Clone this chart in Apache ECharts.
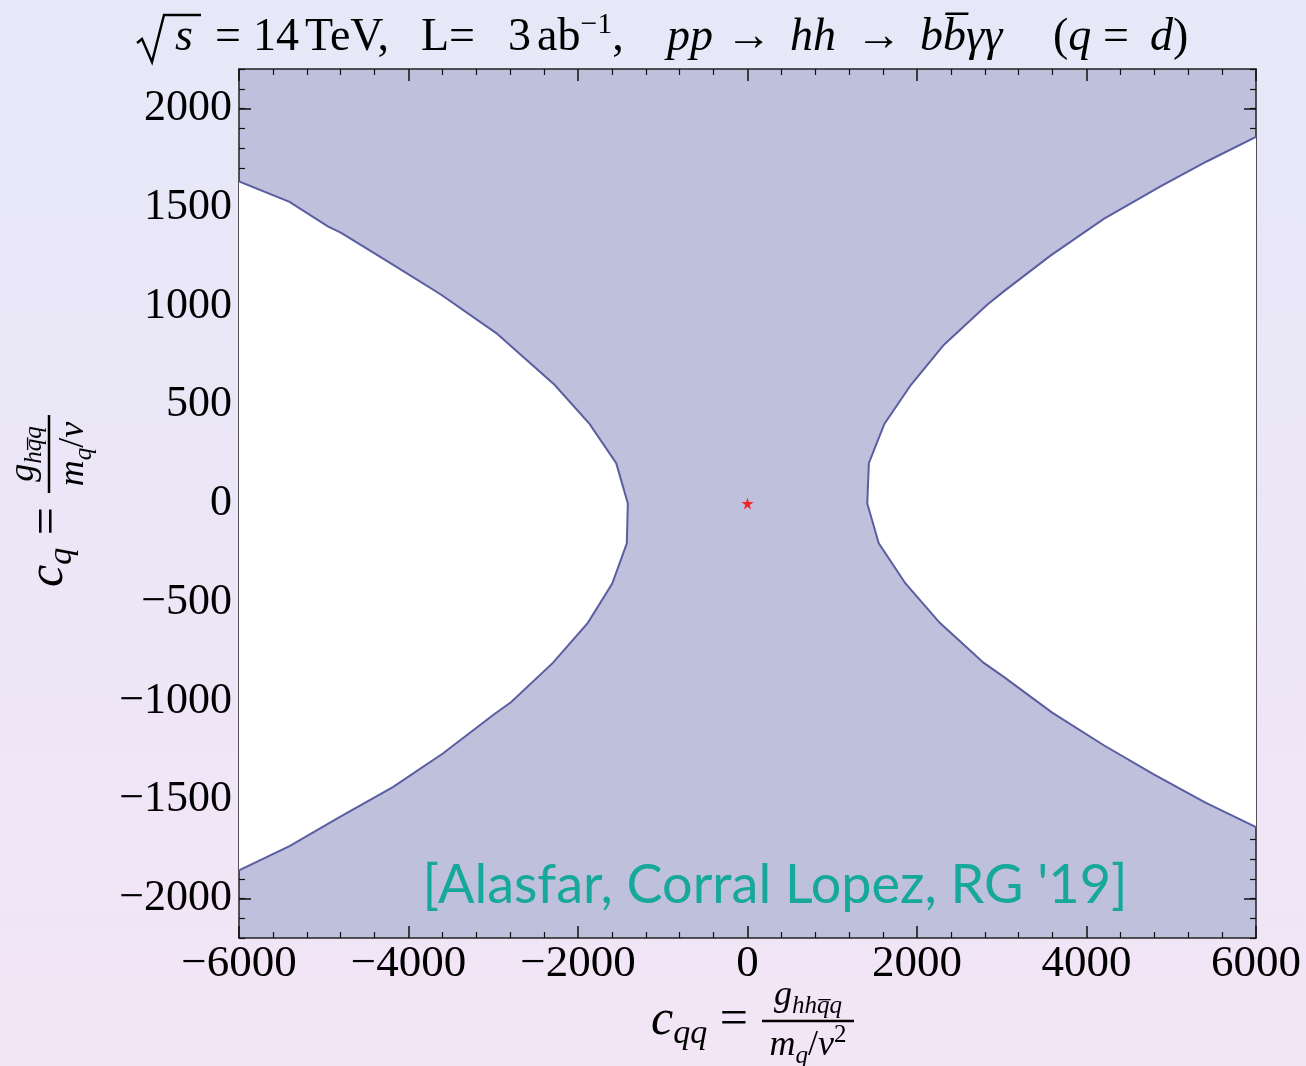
<!DOCTYPE html>
<html>
<head>
<meta charset="utf-8">
<script src="https://cdn.jsdelivr.net/npm/echarts@6/dist/echarts.min.js"></script>
<style>
  html, body { margin: 0; padding: 0; }
  #chart { width: 1306px; height: 1066px; }
</style>
</head>
<body>
<div id="chart"></div>
<script>
// Excluded-region boundaries in the (c_qq, c_q) plane, traced from top to bottom.
const leftBoundary = [
  [-6000, 1631], [-5404, 1527], [-4952, 1403], [-4794, 1370], [-4185, 1209],
  [-3614, 1057], [-2965, 863], [-2277, 601], [-1864, 403], [-1549, 204],
  [-1412, 0], [-1424, -202], [-1596, -405], [-1884, -604], [-2297, -807],
  [-2788, -1005], [-3005, -1072], [-3595, -1266], [-4185, -1436],
  [-4814, -1588], [-5404, -1735], [-6000, -1858]
];
const rightBoundary = [
  [6000, 1856], [5424, 1733], [4873, 1606], [4204, 1441], [3575, 1255],
  [3024, 1074], [2828, 1006], [2316, 803], [1929, 601], [1615, 403],
  [1432, 204], [1413, 0], [1549, -202], [1864, -405], [2269, -604],
  [2788, -807], [3024, -878], [3595, -1059], [4204, -1224], [4794, -1371],
  [5404, -1515], [6000, -1638]
];
// Standard Model point
const smPoint = [[0, 0]];

// Axis ranges and tick labels
const xTicks = [-6000, -4000, -2000, 0, 2000, 4000, 6000];
const yTicks = [-2000, -1500, -1000, -500, 0, 500, 1000, 1500, 2000];
const xRange = [-6000, 6000];
const yRange = [-2200, 2200];
const yMinorStep = 100;

const SERIF = '"Liberation Serif", "DejaVu Serif", serif';
const fillColor = '#bfc0db';
const lineColor = '#5a5ea0';

const fmt = v => String(v).replace('-', '\u2212');

function region(boundary) {
  return function (params, api) {
    const pts = boundary.map(p => api.coord(p));
    return {
      type: 'group',
      children: [
        { type: 'polygon', shape: { points: pts }, style: { fill: '#ffffff' } },
        { type: 'polyline', shape: { points: pts },
          style: { stroke: lineColor, lineWidth: 2, fill: null } }
      ]
    };
  };
}

// Rich-text styles shared by the math labels
function mathRich(main, sub) {
  return {
    r: { fontFamily: SERIF, fontSize: main, lineHeight: main + 10, fill: '#000' },
    i: { fontFamily: SERIF, fontStyle: 'italic', fontSize: main, lineHeight: main + 10, fill: '#000' },
    s: { fontFamily: SERIF, fontStyle: 'italic', fontSize: sub, lineHeight: sub - 1,
         verticalAlign: 'bottom', fill: '#000' },
    sup: { fontFamily: SERIF, fontSize: sub, lineHeight: sub + 4, verticalAlign: 'top', fill: '#000' }
  };
}

// "lhs = num / den" with a drawn fraction bar
function fractionLabel(o) {
  return {
    type: 'group', x: o.x, y: o.y, rotation: o.rotation || 0, silent: true,
    children: [
      { type: 'text', style: { text: o.lhs, rich: mathRich(o.main, o.sub), x: 0, y: 0,
          align: 'right', verticalAlign: 'middle' } },
      { type: 'line', shape: { x1: o.gap, y1: 0, x2: o.gap + o.w, y2: 0 },
        style: { stroke: '#000', lineWidth: 2.5 } },
      { type: 'text', style: { text: o.num, rich: mathRich(o.fmain, o.fsub),
          x: o.gap + o.w / 2, y: -2, align: 'center', verticalAlign: 'bottom' } },
      { type: 'text', style: { text: o.den, rich: mathRich(o.fmain, o.fsub),
          x: o.gap + o.w / 2, y: 2, align: 'center', verticalAlign: 'top' } }
    ]
  };
}

// Title pieces, each placed along the top line
function titlePiece(x, text) {
  return {
    type: 'text', x: x, y: 38, silent: true,
    style: { text: text, rich: mathRich(46, 30), align: 'left', verticalAlign: 'middle' }
  };
}

const axisLineStyle = { color: '#222', width: 1.5 };
const tickStyle = { color: '#111', width: 1.5 };

const xAxisBase = {
  type: 'value', min: xRange[0], max: xRange[1], interval: xTicks[1] - xTicks[0],
  axisLine: { show: true, onZero: false, lineStyle: axisLineStyle },
  axisTick: { show: true, inside: true, length: 12, lineStyle: tickStyle },
  minorTick: { show: true, splitNumber: 5, length: 6, lineStyle: { color: '#111', width: 1.2 } },
  splitLine: { show: false }, minorSplitLine: { show: false }
};

// Major y ticks at the labelled values
function yMajor(position, labels) {
  return {
    type: 'value', min: yRange[0], max: yRange[1], interval: yMinorStep, position: position,
    axisLine: { show: true, onZero: false, lineStyle: axisLineStyle },
    axisTick: { show: true, inside: true, length: 12, lineStyle: tickStyle, customValues: yTicks },
    axisLabel: labels ? {
      show: true, customValues: yTicks, fontFamily: SERIF, fontSize: 44, color: '#000',
      margin: 7, formatter: fmt
    } : { show: false },
    splitLine: { show: false }
  };
}
// Minor y ticks every 100
function yMinor(position) {
  return {
    type: 'value', min: yRange[0], max: yRange[1], interval: yMinorStep, position: position,
    axisLine: { show: false, onZero: false },
    axisTick: { show: true, inside: true, length: 6, lineStyle: { color: '#111', width: 1.2 } },
    axisLabel: { show: false },
    splitLine: { show: false }
  };
}

const chart = echarts.init(document.getElementById('chart'), null, { renderer: 'canvas' });

chart.setOption({
  animation: false,
  backgroundColor: {
    type: 'linear', x: 0, y: 0, x2: 0, y2: 1,
    colorStops: [{ offset: 0, color: '#e6e8f8' }, { offset: 1, color: '#f2e5f6' }]
  },
  grid: {
    left: 239, top: 69, width: 1017, height: 869,
    show: true, backgroundColor: fillColor, borderWidth: 0
  },
  xAxis: [
    Object.assign({}, xAxisBase, {
      position: 'bottom',
      axisLabel: { fontFamily: SERIF, fontSize: 45, color: '#000', margin: 4, formatter: fmt }
    }),
    Object.assign({}, xAxisBase, { position: 'top', axisLabel: { show: false } })
  ],
  yAxis: [yMajor('left', true), yMajor('right', false), yMinor('left'), yMinor('right')],
  series: [
    { type: 'custom', name: 'left', renderItem: region(leftBoundary), data: [0], clip: true, z: 2 },
    { type: 'custom', name: 'right', renderItem: region(rightBoundary), data: [0], clip: true, z: 2 },
    {
      type: 'scatter', data: smPoint, z: 5,
      symbol: 'path://M50,0 L61,35 L98,35 L68,57 L79,91 L50,70 L21,91 L32,57 L2,35 L39,35 Z',
      symbolSize: 12, itemStyle: { color: '#ff0000' }
    }
  ],
  graphic: [
    // radical sign over s
    {
      type: 'polyline', silent: true,
      shape: { points: [[137, 43], [142, 39], [152, 62], [164, 15], [201, 15]] },
      style: { stroke: '#000', lineWidth: 2.4, fill: null }
    },
    titlePiece(175, '{i|s}'),
    titlePiece(215, '{r|=}'),
    titlePiece(253, '{r|14}'),
    titlePiece(305, '{r|TeV,}'),
    titlePiece(421, '{r|L=}'),
    titlePiece(508, '{r|3}'),
    titlePiece(537, '{r|ab}{sup|\u22121}{r|,}'),
    titlePiece(667, '{i|pp}'),
    titlePiece(726, '{r|\u2192}'),
    titlePiece(790, '{i|hh}'),
    titlePiece(856, '{r|\u2192}'),
    titlePiece(920, '{i|bb\u0305\u03B3\u03B3}'),
    titlePiece(1053, '{r|(}{i|q}'),
    titlePiece(1103, '{r|=}'),
    titlePiece(1150, '{i|d}{r|)}'),
    fractionLabel({
      x: 748, y: 1021, gap: 14, w: 92, main: 50, sub: 34, fmain: 36, fsub: 25,
      lhs: '{i|c}{s|qq}{r| =}',
      num: '{i|g}{s|hhq\u0305q}',
      den: '{i|m}{s|q}{r|/}{i|v}{sup|2}'
    }),
    fractionLabel({
      x: 49, y: 507, rotation: Math.PI / 2, gap: 14, w: 78, main: 50, sub: 34, fmain: 36, fsub: 25,
      lhs: '{i|c}{s|q}{r| =}',
      num: '{i|g}{s|hq\u0305q}',
      den: '{i|m}{s|q}{r|/}{i|v}'
    }),
    {
      type: 'text', x: 775, y: 886, silent: true, z: 10,
      style: {
        text: "[Alasfar, Corral Lopez, RG '19]",
        fontFamily: 'Lato, "Open Sans", sans-serif', fontSize: 54,
        fill: '#16a89b', align: 'center', verticalAlign: 'middle'
      }
    }
  ]
});
</script>
</body>
</html>
